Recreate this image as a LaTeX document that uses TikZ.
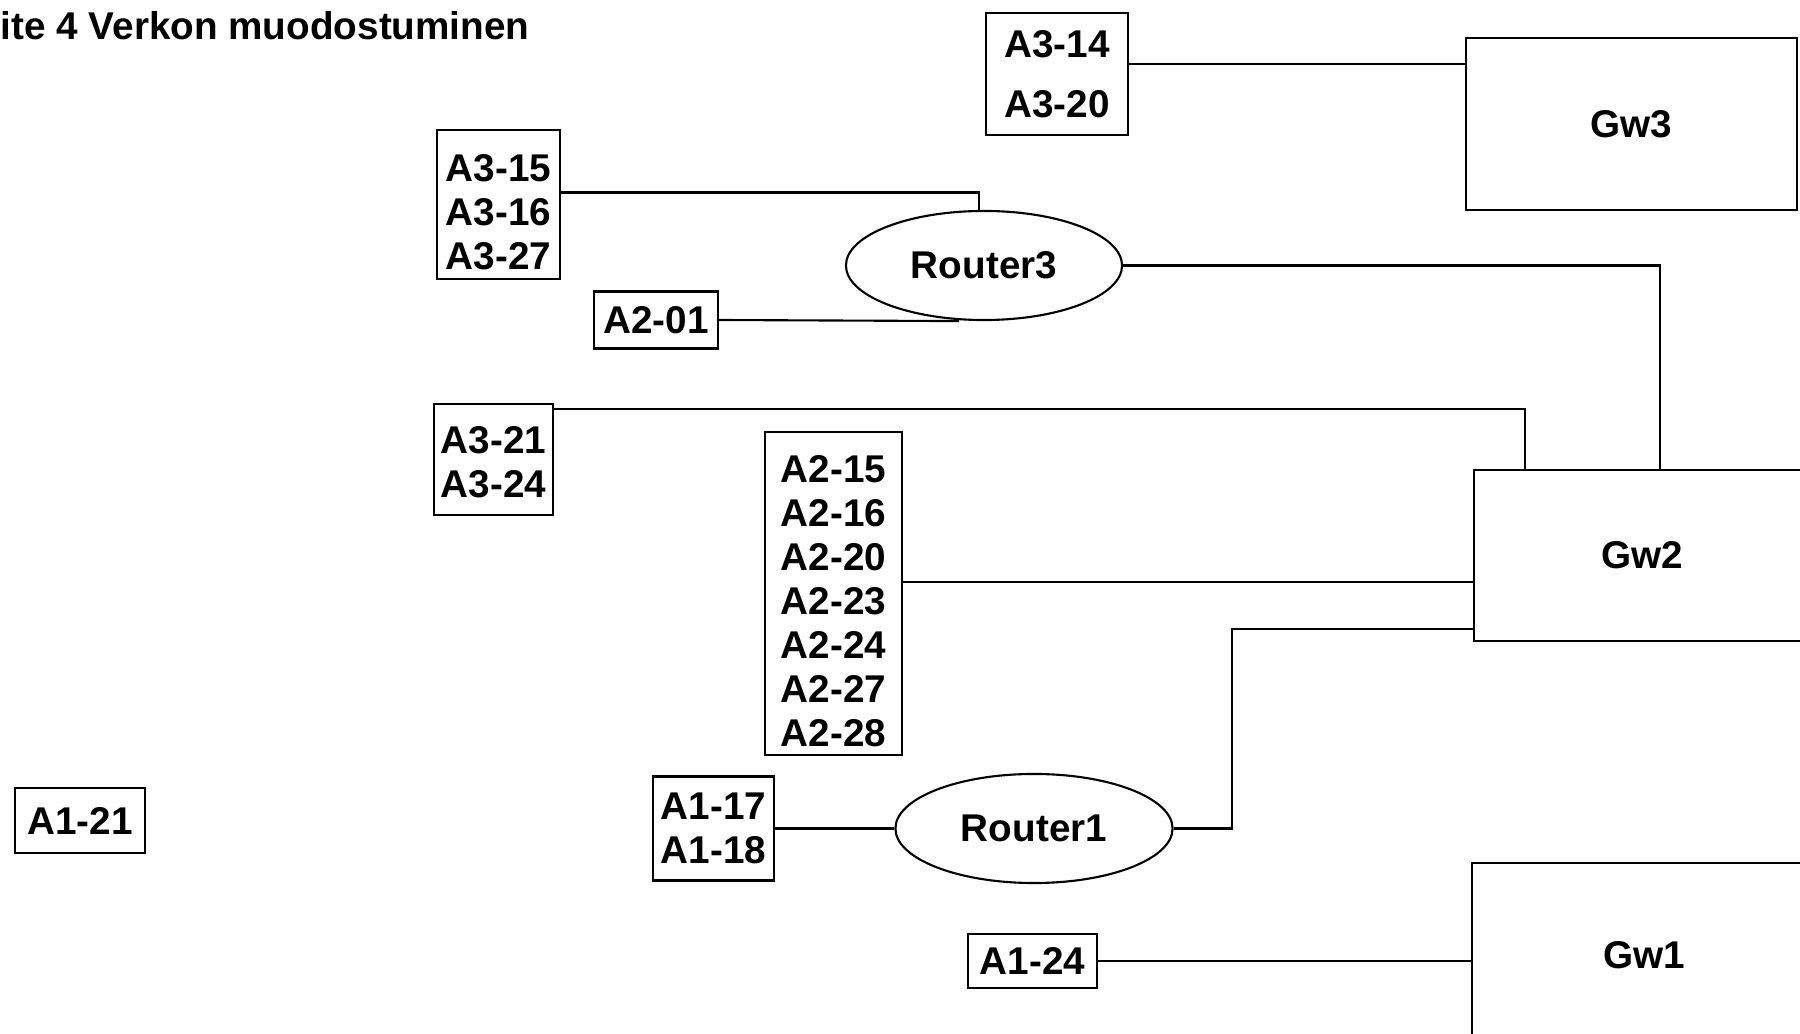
\documentclass[tikz,border=0pt]{standalone}
\usepackage{fontspec}
\setmainfont{Liberation Sans}
\usetikzlibrary{shapes.geometric}

\tikzset{
  labelfont/.style={font=\bfseries\fontsize{11}{12.5}\selectfont},
  hostbox/.style={draw, line width=0.6pt, align=center, inner sep=0pt, labelfont},
  gwbox/.style={draw, line width=0.6pt, inner sep=0pt, labelfont},
  routernode/.style={draw, ellipse, line width=0.6pt, inner sep=0pt, labelfont},
  wire/.style={line width=0.6pt}
}

\begin{document}
\begin{tikzpicture}[x=0.01cm, y=-0.01cm]
  \useasboundingbox (0,0) rectangle (1800,1034);
  \clip (0,0) rectangle (1800,1034);
  \node[anchor=base west, inner sep=0pt, labelfont] (title) at (0,40) {ite 4 Verkon muodostuminen};
  % gateways
  \node[gwbox, minimum width=3.31cm, minimum height=1.72cm] (gw3) at (1631.5,124) {Gw3};
  \node[gwbox, minimum width=3.36cm, minimum height=1.71cm] (gw2) at (1642,555.5) {Gw2};
  \node[gwbox, minimum width=3.44cm, minimum height=1.84cm] (gw1) at (1644,955) {Gw1};
  % routers
  \node[routernode, minimum width=2.76cm, minimum height=1.09cm] (r3) at (984,265.5) {Router3};
  \node[routernode, minimum width=2.77cm, minimum height=1.09cm] (r1) at (1034,828.5) {Router1};
  % hosts
  \node[hostbox, minimum width=1.42cm, minimum height=1.22cm] (a314) at (1057,74) {A3-14\\[4.5pt]A3-20};
  \node[hostbox, minimum width=1.23cm, minimum height=1.49cm] (a315) at (498.5,204.5) {\rule{0pt}{12pt}A3-15\\A3-16\\A3-27};
  \node[hostbox, minimum width=1.24cm, minimum height=0.57cm] (a201) at (656,320) {A2-01};
  \node[hostbox, minimum width=1.19cm, minimum height=1.11cm] (a321) at (493.5,459.5) {\rule{0pt}{9pt}A3-21\\A3-24};
  \node[hostbox, minimum width=1.37cm, minimum height=3.23cm] (a215) at (833.5,593.5) {\rule{0pt}{12pt}A2-15\\A2-16\\A2-20\\A2-23\\A2-24\\A2-27\\A2-28};
  \node[hostbox, minimum width=1.21cm, minimum height=1.04cm] (a117) at (713.5,828.5) {A1-17\\A1-18};
  \node[hostbox, minimum width=1.30cm, minimum height=0.65cm] (a121) at (80,820.5) {A1-21};
  \node[hostbox, minimum width=1.29cm, minimum height=0.54cm] (a124) at (1032.5,961) {A1-24};
  % links
  \draw[wire] ([yshift=0.1cm]a314.east) -- ([yshift=0.1cm]a314.east -| gw3.west);
  \draw[wire] ([yshift=0.12cm]a315.east) -| ([xshift=-0.05cm]r3.north);
  \draw[wire] (a201.east) -- ([xshift=-0.25cm]r3.south);
  \draw[wire] (r3.east) -| ([xshift=0.18cm]gw2.north);
  \draw[wire] ([yshift=-0.06cm]a321.north east) -| ([xshift=-1.17cm]gw2.north);
  \draw[wire] ([yshift=0.115cm]a215.east) -- ([yshift=0.115cm]a215.east -| gw2.west);
  \draw[wire] (r1.east) -- ++(58,0) |- ([yshift=0.13cm]gw2.south west);
  \draw[wire] (a117.east) -- (r1.west);
  \draw[wire] (a124.east) -- (a124.east -| gw1.west);
\end{tikzpicture}
\end{document}
